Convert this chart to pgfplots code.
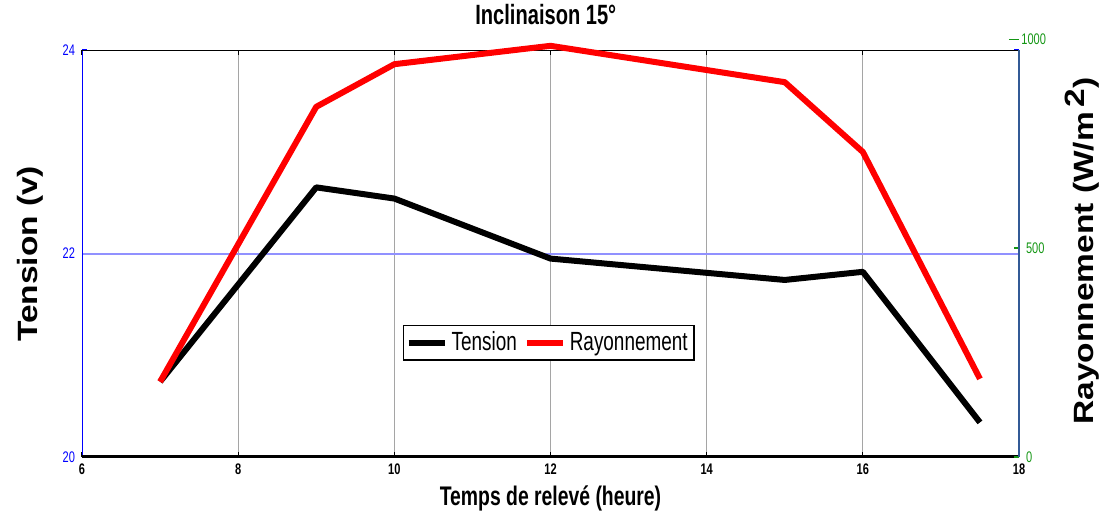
\documentclass[border=0pt]{standalone}
\usepackage{pgfplots}
\usepackage{pgfplotstable}
\pgfplotsset{compat=1.18}
\usepackage{fontspec}
\setmainfont{Liberation Sans}
\newfontfamily\nf[FakeStretch=0.72]{Liberation Sans}
\newfontfamily\wf[FakeStretch=1.2]{Liberation Sans}
\definecolor{tgreen}{RGB}{20,150,20}
\definecolor{rblue}{RGB}{50,90,150}
\definecolor{gridgray}{RGB}{165,165,165}
\definecolor{gridblue}{RGB}{145,145,255}

% Tension (V) en fonction de l'heure
\pgfplotstableread{
x V
7 20.74
9 22.65
10 22.54
12 21.95
15 21.74
16 21.82
17.5 20.34
}\tension

% Rayonnement (W/m2) en fonction de l'heure
\pgfplotstableread{
x G
7 180
9 838
10 940
12 984
15 897
16 730
17.5 187
}\rayon

\begin{document}
\begin{tikzpicture}
\useasboundingbox (0,0) rectangle (552bp,259bp);
\begin{axis}[
  at={(41bp,30.5bp)}, anchor=south west,
  scale only axis, width=468.5bp, height=203.5bp,
  xmin=6, xmax=18, ymin=20, ymax=24,
  xtick={6,8,...,18}, ytick={20,22,24},
  axis line style={draw=none},
  tick align=inside,
  major tick length=2.5bp,
  xtick style={black, line width=0.6bp},
  ytick style={blue, line width=0.6bp},
  xmajorgrids,
  major grid style={gridgray, line width=0.5bp},
  /pgf/number format/assume math mode=true,
  xticklabel style={font=\nf\bfseries\fontsize{7.7}{8}\selectfont, black},
  yticklabel style={font=\nf\fontsize{7.7}{8}\selectfont, blue},
  title={Inclinaison 15°},
  title style={at={(rel axis cs:0.495,1.058)}, anchor=center,
    font=\nf\bfseries\fontsize{14}{15}\selectfont},
  xlabel={Temps de relevé (heure)},
  xlabel style={at={(rel axis cs:0.5,-0.103)}, anchor=center,
    font=\nf\bfseries\fontsize{13.5}{14}\selectfont},
  ylabel={Tension (v)},
  ylabel style={at={(rel axis cs:-0.0555,0.499)}, anchor=center,
    font=\wf\bfseries\fontsize{14}{15}\selectfont},
]
% horizontal grid line of the voltage scale
\draw[gridblue, line width=1bp] (axis cs:6,22) -- (axis cs:18,22);
\addplot[black, line width=3bp, line join=round] table[x=x, y=V] {\tension};
\draw[blue, line width=0.8bp] (rel axis cs:0,0) -- (rel axis cs:0,1);
\draw[black, line width=0.8bp] (rel axis cs:0,1) -- (rel axis cs:1,1);
\draw[black, line width=1.6bp] (rel axis cs:0,0) -- (rel axis cs:1,0);
\end{axis}

\begin{axis}[
  at={(41bp,30.5bp)}, anchor=south west,
  scale only axis, width=468.5bp, height=203.5bp,
  xmin=6, xmax=18, ymin=0, ymax=974,
  axis x line=none, axis y line*=right,
  y axis line style={rblue, line width=0.8bp, -},
  ytick={0,500},
  tick align=inside,
  major tick length=2.5bp,
  ytick style={tgreen, line width=0.6bp},
  /pgf/number format/assume math mode=true,
  yticklabel style={font=\nf\fontsize{7.7}{8}\selectfont, tgreen},
  clip=false,
  ylabel={Rayonnement (W/m\,\raisebox{0.6ex}{2})},
  ylabel style={at={(rel axis cs:1.067,0.506)}, anchor=center,
    font=\wf\bfseries\fontsize{14}{15}\selectfont},
  legend columns=2,
  legend image code/.code={\draw[#1] (0bp,0bp) -- (18bp,0bp);},
  legend style={at={(rel axis cs:0.498,0.281)}, anchor=center,
    draw=black, line width=0.6bp, inner sep=1.2bp,
    font=\nf\fontsize{13.2}{14}\selectfont,
    /tikz/every even column/.append style={column sep=1.5bp}},
]
\addlegendimage{black, line width=3bp}
\addlegendentry{Tension}
\addplot[red, line width=3bp, line join=round] table[x=x, y=G] {\rayon};
\addlegendentry{Rayonnement}
\draw[tgreen, line width=0.6bp] (axis cs:17.87,1000) -- (axis cs:18,1000);
\node[anchor=west, tgreen, inner sep=1bp, font=\nf\fontsize{7.7}{8}\selectfont]
  at (axis cs:18,1000) {1000};
\end{axis}
\end{tikzpicture}
\end{document}
